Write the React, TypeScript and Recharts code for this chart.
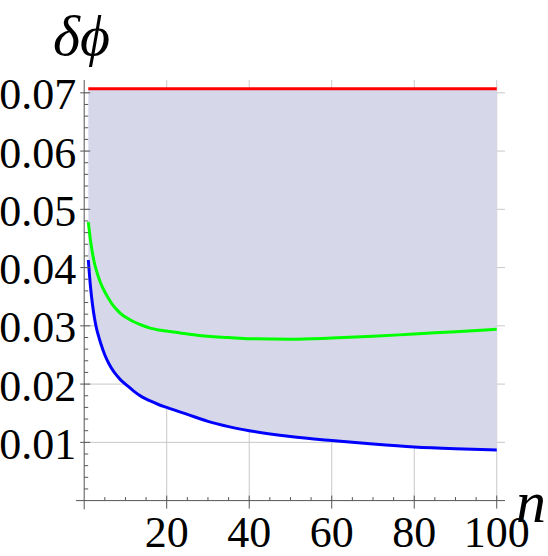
import {
  Area,
  CartesianGrid,
  ComposedChart,
  Line,
  ReferenceLine,
  XAxis,
  YAxis,
} from "recharts";

// values
const nValues = [
  1, 1.5, 2, 2.5, 3, 3.5, 4, 5, 6, 7, 8, 9, 10, 12, 14, 16, 18, 20, 25, 30, 35, 40, 50, 60,
  70, 80, 90, 100,
];
const blueValues = [
  0.0413, 0.0369, 0.0337, 0.0313, 0.0295, 0.0282, 0.027, 0.025, 0.0235, 0.0223, 0.0214,
  0.0206, 0.02, 0.0188, 0.0178, 0.0171, 0.0165, 0.016, 0.0148, 0.0136, 0.0127, 0.012,
  0.011, 0.0103, 0.0097, 0.0092, 0.0089, 0.0087,
];
const greenValues = [
  0.0478, 0.0448, 0.0425, 0.0407, 0.0394, 0.0383, 0.0373, 0.0358, 0.0346, 0.0335, 0.0327,
  0.032, 0.0315, 0.0307, 0.0301, 0.0296, 0.0293, 0.0291, 0.0286, 0.0282, 0.028, 0.0278,
  0.0277, 0.0279, 0.0282, 0.0286, 0.029, 0.0294,
];
const redValues = [
  0.0707, 0.0707, 0.0707, 0.0707, 0.0707, 0.0707, 0.0707, 0.0707, 0.0707, 0.0707, 0.0707,
  0.0707, 0.0707, 0.0707, 0.0707, 0.0707, 0.0707, 0.0707, 0.0707, 0.0707, 0.0707, 0.0707,
  0.0707, 0.0707, 0.0707, 0.0707, 0.0707, 0.0707,
];

const xMajorTicks = [20, 40, 60, 80, 100];
const xMinorTicks = [5, 10, 15, 25, 30, 35, 45, 50, 55, 65, 70, 75, 85, 90, 95];
const yMajorTicks = [0.01, 0.02, 0.03, 0.04, 0.05, 0.06, 0.07];
const yMinorTicks = [
  0.002, 0.004, 0.006, 0.008, 0.012, 0.014, 0.016, 0.018, 0.022, 0.024, 0.026, 0.028,
  0.032, 0.034, 0.036, 0.038, 0.042, 0.044, 0.046, 0.048, 0.052, 0.054, 0.056, 0.058,
  0.062, 0.064, 0.066, 0.068,
];

const data = nValues.map((n, i) => ({
  n,
  blue: blueValues[i],
  green: greenValues[i],
  red: redValues[i],
  band: [blueValues[i], redValues[i]],
}));

const FONT = "'Liberation Serif', 'Times New Roman', serif";
const AXIS = "#555";
const GRID = "#c8c8c8";

const isMajor = (list: number[], v: number) => list.some((m) => Math.abs(m - v) < 1e-9);

const YTick = (props: any) => {
  const { x, y, payload } = props;
  const major = isMajor(yMajorTicks, payload.value);
  return (
    <g>
      <line x1={major ? x - 4 : x} x2={major ? x + 6 : x + 4} y1={y} y2={y} stroke={AXIS} />
      {major && (
        <text x={x - 8} y={y + 16.5} textAnchor="end" fontFamily={FONT} fontSize={44} fill="#000">
          {payload.value.toFixed(2)}
        </text>
      )}
    </g>
  );
};

const XTick = (props: any) => {
  const { x, y, payload } = props;
  const major = isMajor(xMajorTicks, payload.value);
  return (
    <g>
      <line x1={x} x2={x} y1={major ? y - 5 : y - 3.5} y2={major ? y + 8 : y} stroke={AXIS} />
      {major && (
        <text x={x} y={y + 46.5} textAnchor="middle" fontFamily={FONT} fontSize={44} fill="#000">
          {payload.value}
        </text>
      )}
    </g>
  );
};

export default function App() {
  return (
    <div style={{ position: "absolute", left: 0, top: 0, width: 548, height: 556, background: "#fff" }}>
      <ComposedChart
        width={548}
        height={556}
        data={data}
        margin={{ top: 80, right: 43, bottom: 0, left: 0 }}
      >
        <CartesianGrid
          stroke={GRID}
          horizontalValues={yMajorTicks}
          verticalValues={xMajorTicks}
        />
        <XAxis
          type="number"
          dataKey="n"
          domain={[0, 102]}
          ticks={[...xMinorTicks, ...xMajorTicks].sort((a, b) => a - b)}
          interval={0}
          height={55.4}
          axisLine={false}
          tickLine={false}
          tickSize={0}
          tickMargin={0}
          tick={XTick}
        />
        <YAxis
          type="number"
          domain={[0, 0.0722]}
          ticks={[...yMinorTicks, ...yMajorTicks].sort((a, b) => a - b)}
          interval={0}
          width={84.2}
          axisLine={false}
          tickLine={false}
          tickSize={0}
          tickMargin={0}
          tick={YTick}
        />
        <Area
          dataKey="band"
          type="monotone"
          fill="#d6d8ea"
          fillOpacity={1}
          stroke="none"
          isAnimationActive={false}
        />
        <ReferenceLine
          segment={[{ x: -2, y: 0 }, { x: 102, y: 0 }]}
          stroke={AXIS}
          ifOverflow="visible"
        />
        <ReferenceLine
          segment={[{ x: 0, y: -0.0015 }, { x: 0, y: 0.0722 }]}
          stroke={AXIS}
          ifOverflow="visible"
        />
        <Line dataKey="blue" type="monotone" stroke="#0000ff" strokeWidth={3} dot={false} isAnimationActive={false} />
        <Line dataKey="green" type="monotone" stroke="#00ff00" strokeWidth={3} dot={false} isAnimationActive={false} />
        <Line dataKey="red" type="monotone" stroke="#ff0000" strokeWidth={3} dot={false} isAnimationActive={false} />
      </ComposedChart>
      <svg
        width={548}
        height={556}
        style={{ position: "absolute", left: 0, top: 0, pointerEvents: "none" }}
      >
        <text x={53} y={55} fontFamily={FONT} fontStyle="italic" fontSize={58} fill="#000">
          δϕ
        </text>
        <text x={516} y={522} fontFamily={FONT} fontStyle="italic" fontSize={60} fill="#000">
          n
        </text>
      </svg>
    </div>
  );
}
